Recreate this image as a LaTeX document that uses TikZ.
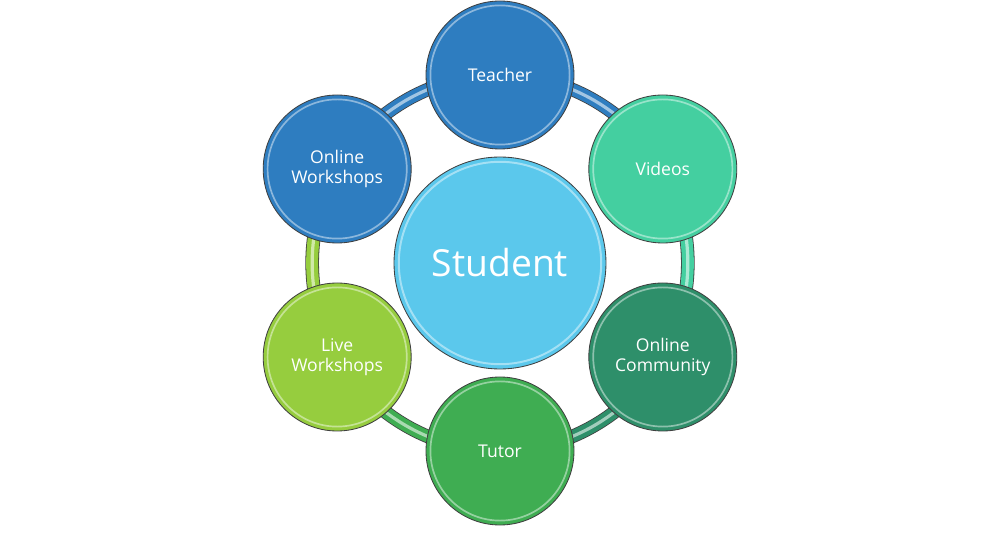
\documentclass[tikz,border=0pt]{standalone}
\usepackage{fontspec}
\setmainfont{Open Sans}
\tikzset{>=stealth}
\pgfdeclarelayer{background}
\pgfsetlayers{background,main}
\definecolor{teacherblue}{HTML}{2E7DC0}
\definecolor{studentblue}{HTML}{5BC8EC}
\definecolor{videogreen}{HTML}{44CFA0}
\definecolor{communitygreen}{HTML}{2E8F6A}
\definecolor{tutorgreen}{HTML}{3FAD52}
\definecolor{livegreen}{HTML}{96CD3E}
\tikzset{
  bubble/.style={circle, draw=black!75, line width=0.6pt, minimum size=3.7cm, inner sep=0pt,
    text=white, align=center, font=\fontsize{12.5}{14.5}\selectfont},
  ring/.style={line width=3mm, bend left=30, looseness=0.91},
}

\begin{document}
\begin{tikzpicture}
\useasboundingbox (-12.5,-6.825) rectangle (12.5,6.575);
\node[bubble, fill=studentblue, minimum size=5.3cm, font=\fontsize{26.5}{30}\selectfont] (student) at (0,0) {Student};
\node[bubble, fill=teacherblue] (teacher) at (90:4.7) {Teacher};
\node[bubble, fill=videogreen] (videos) at (30:4.7) {Videos};
\node[bubble, fill=communitygreen] (community) at (-30:4.7) {Online\\Community};
\node[bubble, fill=tutorgreen] (tutor) at (-90:4.7) {Tutor};
\node[bubble, fill=livegreen] (live) at (210:4.7) {Live\\Workshops};
\node[bubble, fill=teacherblue] (online) at (150:4.7) {Online\\Workshops};
\foreach \n in {teacher,videos,community,tutor,live,online}
  \draw[white, opacity=.45, line width=1.2pt] (\n.center) circle (1.74);
\draw[white, opacity=.45, line width=1.4pt] (student.center) circle (2.53);
\begin{pgfonlayer}{background}
\foreach \a/\b/\c in {teacher/videos/teacherblue, videos/community/videogreen,
    community/tutor/communitygreen, tutor/live/tutorgreen, live/online/livegreen,
    online/teacher/teacherblue} {
  \draw[ring, black!75, line width=3.4mm] (\a.center) to (\b.center);
  \draw[ring, \c] (\a.center) to (\b.center);
  \draw[ring, \c!45!white, line width=0.8mm] (\a.center) to (\b.center);
}
\end{pgfonlayer}
\end{tikzpicture}
\end{document}
